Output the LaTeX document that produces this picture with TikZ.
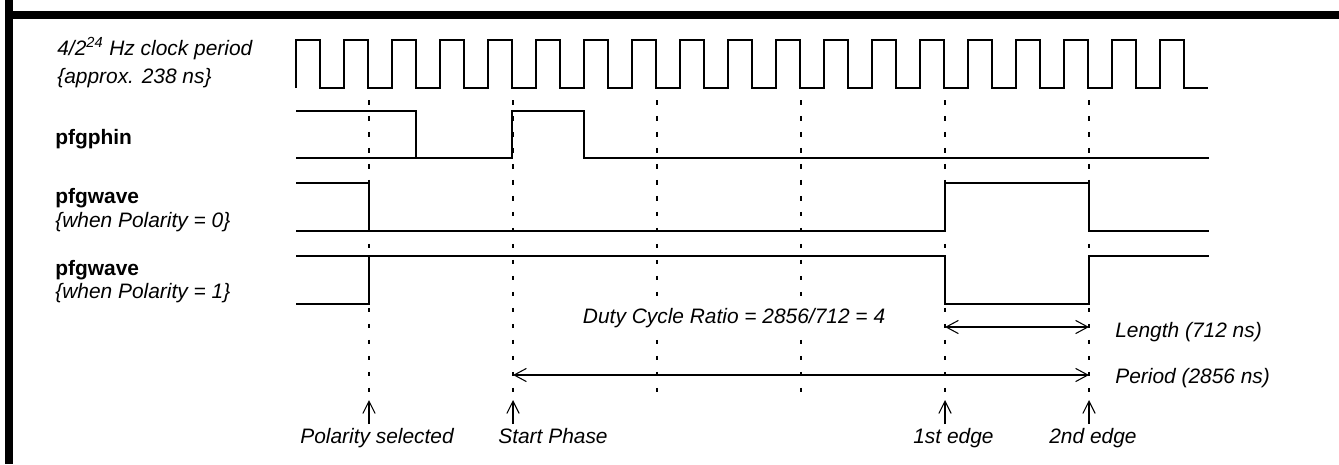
\documentclass[tikz,border=0pt]{standalone}
\usepackage{fontspec}
\setmainfont{Liberation Sans}
\usetikzlibrary{arrows.meta}

\begin{document}
\begin{tikzpicture}[
    x=0.02cm, y=-0.02cm,
    lbl/.style    = {anchor=base west, inner sep=0pt,
                     font=\fontsize{11.9}{14}\selectfont\itshape},
    sig/.style    = {anchor=base west, inner sep=0pt,
                     font=\fontsize{11.9}{14}\selectfont\bfseries},
    wave/.style   = {line width=1.4pt, line join=miter},
    guide/.style  = {line width=0.7pt, dash pattern=on 2.6pt off 6.5pt},
    dimarr/.style = {{Straight Barb[length=7pt,width=7.5pt]}-{Straight Barb[length=7pt,width=7.5pt]},
                     line width=0.6pt},
    uparr/.style  = {-{Straight Barb[length=7pt,width=7pt]}, line width=0.6pt}
]
\useasboundingbox (0,0) rectangle (1339,464);

%% ---- frame (top and left bars only) ----
\fill (4.5,0)  rectangle (12.5,464);
\fill (4.5,11) rectangle (1339,19);

%% ---- guides every 3 clock periods ----
\foreach \i/\x in {1/369,2/513,3/657,4/801,5/945,6/1089} {
    \coordinate (top\i)  at (\x,100);
    \coordinate (bot\i)  at (\x,400);
    \coordinate (foot\i) at (\x,424);
    \draw[guide] (top\i) -- (bot\i);
}

%% =============================================
%% LEFT LABELS
%% =============================================
\node[lbl] (clk1)  at (57,55)  {4/2\textsuperscript{24} Hz clock period};
\node[lbl] (clk2)  at (57,83)  {\{approx. 238 ns\}};
\node[sig] (phin)  at (55,144) {pfgphin};
\node[sig] (wave0) at (55,203) {pfgwave};
\node[lbl] (pol0)  at (55,227) {\{when Polarity = 0\}};
\node[sig] (wave1) at (55,275) {pfgwave};
\node[lbl] (pol1)  at (55,298) {\{when Polarity = 1\}};

%% =============================================
%% WAVEFORMS
%% =============================================
%% clock
\draw[wave] (296,88) \foreach \k in {0,...,18} { -- ++(0,-48) -- ++(24,0) -- ++(0,48) -- ++(24,0) };

%% pfgphin
\draw[wave] (296,111) -- (416,111) -- (416,158);
\draw[wave] (296,158) -- (512,158) -- (512,111) -- (584,111) -- (584,158) -- (1209,158);

%% pfgwave, polarity 0
\draw[wave] (296,183) -- (369,183) -- (369,231);
\draw[wave] (296,231) -- (945,231) -- (945,183) -- (1089,183) -- (1089,231) -- (1209,231);

%% pfgwave, polarity 1
\draw[wave] (296,304) -- (369,304) -- (369,256);
\draw[wave] (296,256) -- (945,256) -- (945,304) -- (1089,304) -- (1089,256) -- (1209,256);

%% =============================================
%% MEASUREMENTS
%% =============================================
\coordinate (len1) at (945,327);
\coordinate (len2) at (1089,327);
\coordinate (per1) at (513,375);
\coordinate (per2) at (1089,375);

\draw[dimarr] (len1) -- (len2);
\draw[dimarr] (per1) -- (per2);

%% white behind the ratio text hides the guides
\node[lbl, fill=white, inner sep=1.5pt] (duty) at (580,323) {Duty Cycle Ratio = 2856/712 = 4};
\node[lbl] (lenlbl) at (1115,337) {Length (712 ns)};
\node[lbl] (perlbl) at (1115,383) {Period (2856 ns)};

%% ---- event markers ----
\foreach \i in {1,2,5,6} \draw[uparr] (foot\i) -- (bot\i);

\node[lbl] (polsel) at (300,443)  {Polarity selected};
\node[lbl] (start)  at (498,443)  {Start Phase};
\node[lbl] (edge1)  at (913,443)  {1st edge};
\node[lbl] (edge2)  at (1049,443) {2nd edge};

\end{tikzpicture}
\end{document}
